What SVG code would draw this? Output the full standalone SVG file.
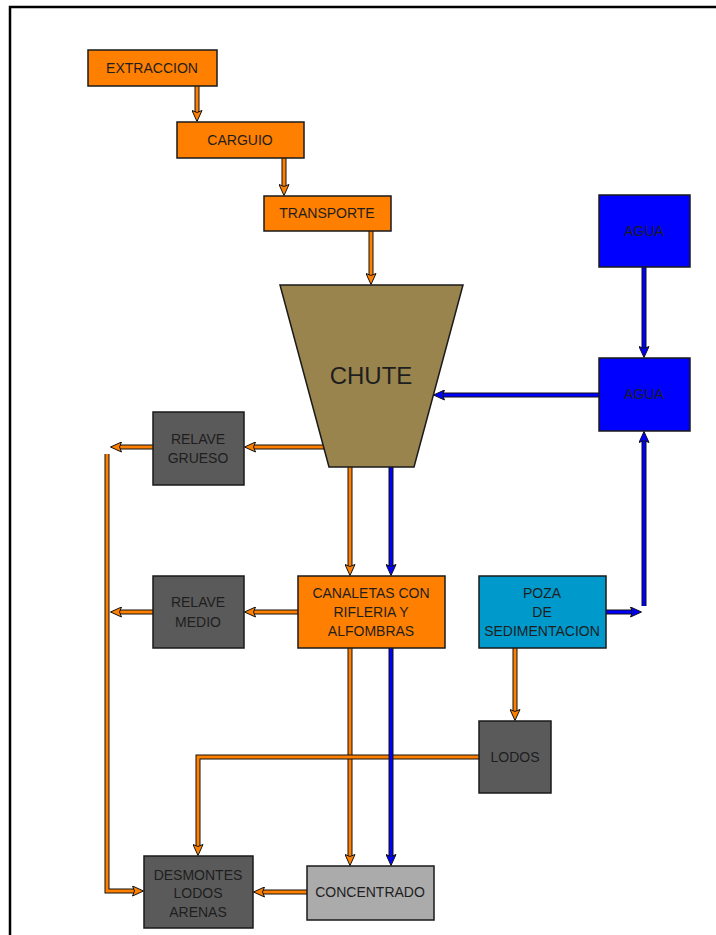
<svg xmlns="http://www.w3.org/2000/svg" width="716" height="935" viewBox="0 0 716 935">
<style>
  .box{stroke:#1a1a1a;stroke-width:1.5}
  .or{fill:#FF8000}
  .bl{fill:#0000FF}
  .dg{fill:#5A5A5A}
  .lg{fill:#ABABAB}
  .pz{fill:#0099CC}
  .ch{fill:#9A844E}
  text{font-family:"Liberation Sans",Arial,sans-serif;font-size:14px;fill:#1e1e1e;text-anchor:middle}
  .big{font-size:24px}
  .ol{fill:none;stroke:#111;stroke-width:5}
  .co{fill:none;stroke:#FF8000;stroke-width:3}
  .cb{fill:none;stroke:#0000FF;stroke-width:3}
</style>
<defs>
  <marker id="ao" viewBox="0 0 12 11" refX="2" refY="5.5" markerWidth="12" markerHeight="11" markerUnits="userSpaceOnUse" orient="auto">
    <polygon points="0.5,0.5 11.5,5.5 0.5,10.5 2.5,5.5" fill="#FF8000" stroke="#111" stroke-width="1"/>
  </marker>
  <marker id="ab" viewBox="0 0 12 11" refX="2" refY="5.5" markerWidth="12" markerHeight="11" markerUnits="userSpaceOnUse" orient="auto">
    <polygon points="0.5,0.5 11.5,5.5 0.5,10.5 2.5,5.5" fill="#0000FF" stroke="#111" stroke-width="1"/>
  </marker>
</defs>
<rect width="716" height="935" fill="#fff"/>
<path d="M10,935 V7 H716" fill="none" stroke="#000" stroke-width="2.5"/>

<g id="connectors">
  <!-- orange -->
  <path class="ol" d="M197,86 V112"/><path class="co" d="M197,86 V112" marker-end="url(#ao)"/>
  <path class="ol" d="M284,158 V186"/><path class="co" d="M284,158 V186" marker-end="url(#ao)"/>
  <path class="ol" d="M371,231 V275"/><path class="co" d="M371,231 V275" marker-end="url(#ao)"/>
  <path class="ol" d="M328,447 H254"/><path class="co" d="M328,447 H254" marker-end="url(#ao)"/>
  <path class="ol" d="M153,447 H120"/><path class="co" d="M153,447 H120" marker-end="url(#ao)"/>
  <path class="ol" d="M298,612 H254"/><path class="co" d="M298,612 H254" marker-end="url(#ao)"/>
  <path class="ol" d="M153,612 H120"/><path class="co" d="M153,612 H120" marker-end="url(#ao)"/>
  <path class="ol" d="M107,454 V891 H134"/><path class="co" d="M107,454 V891 H134" marker-end="url(#ao)"/>
  <path class="ol" d="M350,467 V566"/><path class="co" d="M350,467 V566" marker-end="url(#ao)"/>
  <path class="ol" d="M350,648 V856"/><path class="co" d="M350,648 V856" marker-end="url(#ao)"/>
  <path class="ol" d="M515,648 V711"/><path class="co" d="M515,648 V711" marker-end="url(#ao)"/>
  <path class="ol" d="M479,757 H198 V846"/><path class="co" d="M479,757 H198 V846" marker-end="url(#ao)"/>
  <path class="ol" d="M307,892 H263"/><path class="co" d="M307,892 H263" marker-end="url(#ao)"/>
  <!-- blue -->
  <path class="ol" d="M644,267 V348"/><path class="cb" d="M644,267 V348" marker-end="url(#ab)"/>
  <path class="ol" d="M599,395 H443"/><path class="cb" d="M599,395 H443" marker-end="url(#ab)"/>
  <path class="ol" d="M606,612 H632"/><path class="cb" d="M606,612 H632" marker-end="url(#ab)"/>
  <path class="ol" d="M644,606 V441"/><path class="cb" d="M644,606 V441" marker-end="url(#ab)"/>
  <path class="ol" d="M391,467 V566"/><path class="cb" d="M391,467 V566" marker-end="url(#ab)"/>
  <path class="ol" d="M391,648 V856"/><path class="cb" d="M391,648 V856" marker-end="url(#ab)"/>
</g>

<g id="extraccion"><rect class="box or" x="88" y="50" width="129" height="36"/><text x="152" y="73">EXTRACCION</text></g>
<g id="carguio"><rect class="box or" x="177" y="122" width="127" height="36"/><text x="240" y="145">CARGUIO</text></g>
<g id="transporte"><rect class="box or" x="264" y="196" width="127" height="35"/><text x="327" y="218">TRANSPORTE</text></g>
<g id="chute"><polygon class="box ch" points="280,285 463,285 414,467 329,467"/><text class="big" x="371" y="384">CHUTE</text></g>
<g id="agua1"><rect class="box bl" x="599" y="195" width="91" height="72"/><text x="644" y="236">AGUA</text></g>
<g id="agua2"><rect class="box bl" x="599" y="358" width="91" height="73"/><text x="644" y="399">AGUA</text></g>
<g id="relave-grueso"><rect class="box dg" x="153" y="412" width="91" height="73"/><text x="198" y="444">RELAVE</text><text x="198" y="463">GRUESO</text></g>
<g id="relave-medio"><rect class="box dg" x="153" y="576" width="91" height="72"/><text x="198" y="607">RELAVE</text><text x="198" y="627">MEDIO</text></g>
<g id="canaletas"><rect class="box or" x="298" y="576" width="147" height="72"/><text x="371" y="598">CANALETAS CON</text><text x="371" y="617">RIFLERIA Y</text><text x="371" y="636">ALFOMBRAS</text></g>
<g id="poza"><rect class="box pz" x="479" y="576" width="127" height="72"/><text x="542" y="598">POZA</text><text x="542" y="617">DE</text><text x="542" y="636">SEDIMENTACION</text></g>
<g id="lodos"><rect class="box dg" x="479" y="721" width="72" height="72"/><text x="515" y="762">LODOS</text></g>
<g id="desmontes"><rect class="box dg" x="144" y="856" width="109" height="72"/><text x="198" y="880">DESMONTES</text><text x="198" y="898">LODOS</text><text x="198" y="917">ARENAS</text></g>
<g id="concentrado"><rect class="box lg" x="307" y="866" width="127" height="54"/><text x="370" y="897">CONCENTRADO</text></g>
</svg>
